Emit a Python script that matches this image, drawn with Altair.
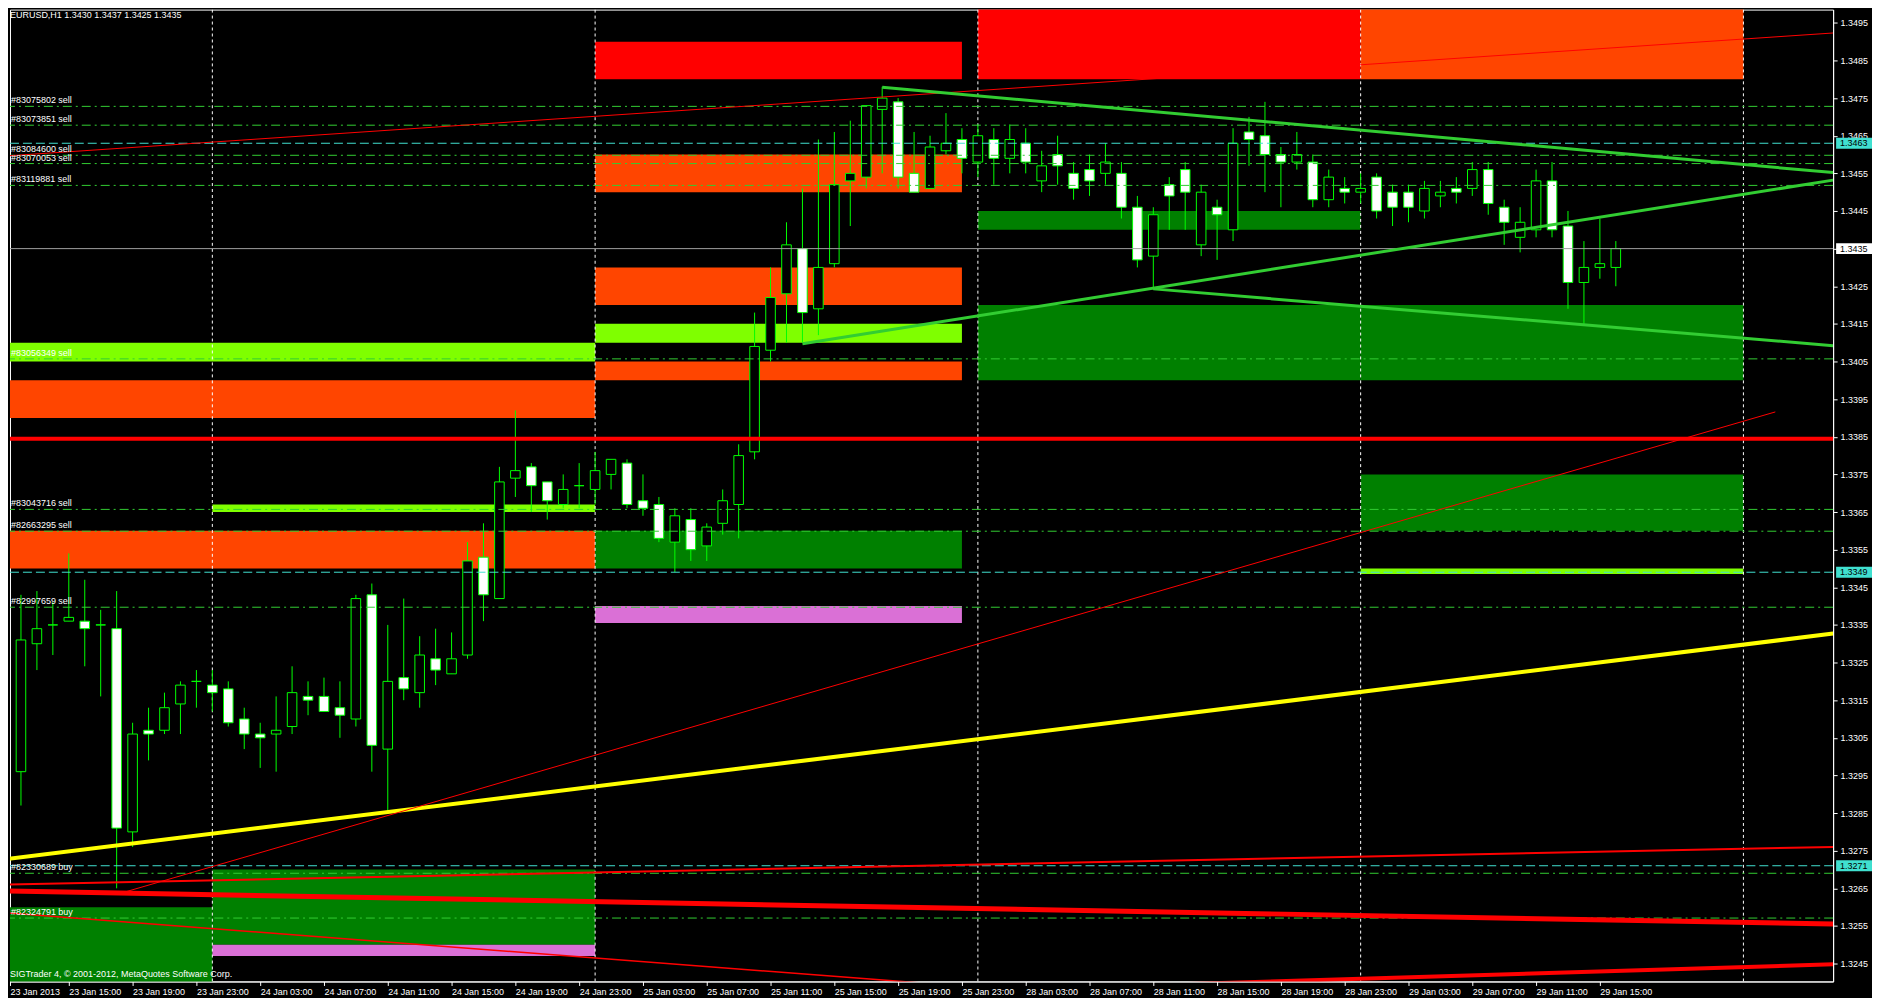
import altair as alt
import pandas as pd

FONT = "Liberation Sans"

# ---------------- candles (bar index k, 0 = 23 Jan 11:00) ----------------
BAR = list(range(102))
OPEN = [1.3297, 1.3296, 1.3330, 1.3335, 1.3336, 1.3336, 1.3335, 1.3334, 1.3280, 1.3307,
        1.3307, 1.3314, 1.3320, 1.3319, 1.3318, 1.3310, 1.3306, 1.3306, 1.3308, 1.3316,
        1.3316, 1.3313, 1.3310, 1.3343, 1.3302, 1.3321, 1.3317, 1.3326, 1.3322, 1.3327,
        1.3353, 1.3342, 1.3374, 1.3377, 1.3373, 1.3367, 1.3372, 1.3371, 1.3375, 1.3378,
        1.3368, 1.3367, 1.3357, 1.3363, 1.3356, 1.3362, 1.3367, 1.3381, 1.3408, 1.3423,
        1.3435, 1.3419, 1.3431, 1.3453, 1.3454, 1.3472, 1.3474, 1.3455, 1.3451, 1.3461,
        1.3464, 1.3458, 1.3464, 1.3459, 1.3463, 1.3453, 1.3460, 1.3455, 1.3456, 1.3455,
        1.3455, 1.3446, 1.3433, 1.3452, 1.3456, 1.3436, 1.3446, 1.3440, 1.3466, 1.3465,
        1.3460, 1.3458, 1.3458, 1.3448, 1.3451, 1.3450, 1.3454, 1.3450, 1.3450, 1.3445,
        1.3449, 1.3451, 1.3451, 1.3456, 1.3446, 1.3438, 1.3440, 1.3453, 1.3441, 1.3426,
        1.3430, 1.3430]
HIGH = [1.3305, 1.3343, 1.3344, 1.3341, 1.3354, 1.3347, 1.3339, 1.3344, 1.3309, 1.3313,
        1.3317, 1.3320, 1.3323, 1.3323, 1.3320, 1.3313, 1.3309, 1.3316, 1.3324, 1.3320,
        1.3321, 1.3320, 1.3343, 1.3346, 1.3335, 1.3342, 1.3332, 1.3334, 1.3333, 1.3357,
        1.3362, 1.3377, 1.3392, 1.3378, 1.3373, 1.3375, 1.3378, 1.3381, 1.3379, 1.3379,
        1.3375, 1.3369, 1.3366, 1.3366, 1.3362, 1.3371, 1.3383, 1.3418, 1.3430, 1.3442,
        1.3451, 1.3464, 1.3466, 1.3469, 1.3473, 1.3478, 1.3475, 1.3466, 1.3465, 1.3471,
        1.3467, 1.3468, 1.3467, 1.3468, 1.3467, 1.3461, 1.3465, 1.3458, 1.3460, 1.3463,
        1.3458, 1.3449, 1.3446, 1.3454, 1.3458, 1.3452, 1.3448, 1.3467, 1.3470, 1.3474,
        1.3462, 1.3466, 1.3460, 1.3456, 1.3454, 1.3455, 1.3455, 1.3452, 1.3452, 1.3453,
        1.3453, 1.3454, 1.3458, 1.3458, 1.3448, 1.3446, 1.3456, 1.3458, 1.3445, 1.3437,
        1.3443, 1.3437]
LOW = [1.3284, 1.3287, 1.3323, 1.3327, 1.3336, 1.3324, 1.3316, 1.3265, 1.3276, 1.3299,
       1.3306, 1.3306, 1.3313, 1.3312, 1.3308, 1.3302, 1.3297, 1.3296, 1.3306, 1.3311,
       1.3312, 1.3305, 1.3308, 1.3296, 1.3285, 1.3315, 1.3313, 1.3319, 1.3322, 1.3326,
       1.3336, 1.3342, 1.3369, 1.3365, 1.3363, 1.3366, 1.3366, 1.3367, 1.3371, 1.3366,
       1.3364, 1.3357, 1.3349, 1.3352, 1.3352, 1.3359, 1.3358, 1.3379, 1.3405, 1.3410,
       1.3410, 1.3412, 1.3430, 1.3441, 1.3451, 1.3455, 1.3451, 1.3450, 1.3451, 1.3460,
       1.3455, 1.3454, 1.3452, 1.3455, 1.3455, 1.3450, 1.3452, 1.3448, 1.3449, 1.3452,
       1.3443, 1.3430, 1.3424, 1.3440, 1.3440, 1.3433, 1.3432, 1.3437, 1.3457, 1.3450,
       1.3446, 1.3456, 1.3446, 1.3446, 1.3447, 1.3447, 1.3443, 1.3441, 1.3442, 1.3443,
       1.3446, 1.3447, 1.3449, 1.3444, 1.3436, 1.3434, 1.3438, 1.3438, 1.3419, 1.3415,
       1.3427, 1.3425]
CLOSE = [1.3297, 1.3331, 1.3334, 1.3335, 1.3337, 1.3334, 1.3335, 1.3281, 1.3306, 1.3306,
         1.3313, 1.3319, 1.3320, 1.3317, 1.3309, 1.3306, 1.3305, 1.3307, 1.3317, 1.3315,
         1.3312, 1.3311, 1.3342, 1.3303, 1.3320, 1.3318, 1.3327, 1.3323, 1.3326, 1.3352,
         1.3343, 1.3373, 1.3376, 1.3372, 1.3368, 1.3371, 1.3372, 1.3376, 1.3379, 1.3367,
         1.3366, 1.3358, 1.3364, 1.3355, 1.3361, 1.3368, 1.3380, 1.3409, 1.3422, 1.3436,
         1.3418, 1.3430, 1.3452, 1.3455, 1.3473, 1.3475, 1.3454, 1.3450, 1.3462, 1.3463,
         1.3459, 1.3465, 1.3459, 1.3464, 1.3458, 1.3457, 1.3457, 1.3451, 1.3453, 1.3458,
         1.3446, 1.3432, 1.3444, 1.3449, 1.3450, 1.3450, 1.3444, 1.3463, 1.3464, 1.3460,
         1.3458, 1.3460, 1.3448, 1.3454, 1.3450, 1.3451, 1.3445, 1.3446, 1.3446, 1.3451,
         1.3450, 1.3450, 1.3456, 1.3447, 1.3442, 1.3442, 1.3453, 1.3440, 1.3426, 1.3430,
         1.3431, 1.3435]

# ---------------- axes ----------------
TICK_BARS = [0.3125, 4, 8, 12, 16, 20, 24, 28, 32, 36, 40, 44, 48, 52, 56, 60, 64, 68, 72,
             76, 80, 84, 88, 92, 96, 100]
TICK_LABELS = ["23 Jan 2013", "23 Jan 15:00", "23 Jan 19:00", "23 Jan 23:00", "24 Jan 03:00",
               "24 Jan 07:00", "24 Jan 11:00", "24 Jan 15:00", "24 Jan 19:00", "24 Jan 23:00",
               "25 Jan 03:00", "25 Jan 07:00", "25 Jan 11:00", "25 Jan 15:00", "25 Jan 19:00",
               "25 Jan 23:00", "28 Jan 03:00", "28 Jan 07:00", "28 Jan 11:00", "28 Jan 15:00",
               "28 Jan 19:00", "28 Jan 23:00", "29 Jan 03:00", "29 Jan 07:00", "29 Jan 11:00",
               "29 Jan 15:00"]
PRICE_TICKS = [1.3245, 1.3255, 1.3265, 1.3275, 1.3285, 1.3295, 1.3305, 1.3315, 1.3325,
               1.3335, 1.3345, 1.3355, 1.3365, 1.3375, 1.3385, 1.3395, 1.3405, 1.3415,
               1.3425, 1.3435, 1.3445, 1.3455, 1.3465, 1.3475, 1.3485, 1.3495]

# ---------------- day separators ----------------
SEPARATORS = [13, 37, 61, 85, 109]

# ---------------- zones ----------------
ZONE_START = [-2, -2, -2, 13, -2, 13, 13, 37, 37, 37, 37, 37, 37, 37, 61, 61, 61, 85, 85, 85, 85]
ZONE_END = [37, 37, 37, 37, 13, 37, 37, 60, 60, 60, 60, 60, 60, 60, 85, 85, 85, 109, 109, 109, 109]
ZONE_LOW = [1.3405, 1.3390, 1.3350, 1.3365, 1.3230, 1.3250, 1.3247, 1.3480, 1.3450, 1.3420,
            1.3410, 1.3400, 1.3350, 1.33355, 1.3480, 1.3440, 1.3400, 1.3480, 1.3400, 1.3360,
            1.33485]
ZONE_HIGH = [1.3410, 1.3400, 1.3360, 1.3367, 1.3260, 1.3270, 1.3250, 1.3490, 1.3460, 1.3430,
             1.3415, 1.3405, 1.3360, 1.3340, 1.3510, 1.3445, 1.3420, 1.3510, 1.3420, 1.3375,
             1.3350]
ZONE_COLOR = ["#7FFF00", "#FF4500", "#FF4500", "#7FFF00", "#008000", "#008000", "#DA70D6",
              "#FF0000", "#FF4500", "#FF4500", "#7FFF00", "#FF4500", "#008000", "#DA70D6",
              "#FF0000", "#008000", "#008000", "#FF4500", "#008000", "#008000", "#7FFF00"]

# ---------------- order lines ----------------
ORDER_PRICE = [1.34728, 1.34678, 1.34598, 1.34576, 1.34518, 1.34057, 1.33657, 1.33599,
               1.33397, 1.32690, 1.32571]
ORDER_LABEL = ["#83075802 sell", "#83073851 sell", "#83084600 sell", "#83070053 sell",
               "#83119881 sell", "#83056349 sell", "#83043716 sell", "#82663295 sell",
               "#82997659 sell", "#82330689 buy", "#82324791 buy"]

CYAN_LEVELS = [1.3463, 1.3349, 1.3271]
RED_LEVEL = [1.33845]
BID_LEVEL = [1.3435]

# ---------------- trend lines ----------------
TREND_ID = ["red_top", "yellow", "red_rise", "red_a", "red_b", "red_c", "red_d", "g1", "g2", "g3"]
TREND_K0 = [0, 0, 7.5, 0, 0, 0, 0, 55, 50, 72]
TREND_P0 = [1.34596, 1.32727, 1.32640, 1.32660, 1.32643, 1.32585, 1.32300, 1.34779, 1.34097, 1.34243]
TREND_K1 = [114.625, 114.625, 111, 114.625, 114.625, 114.625, 114.625, 114.625, 114.625, 114.625]
TREND_P1 = [1.34923, 1.33327, 1.33916, 1.32760, 1.32555, 1.32213, 1.32448, 1.34552, 1.34532, 1.34092]
TREND_COLOR = ["#FF0000", "#FFFF00", "#FF0000", "#FF0000", "#FF0000", "#FF0000", "#FF0000",
               "#32CD32", "#32CD32", "#32CD32"]
TREND_W = [1, 4, 1, 2, 5, 1.5, 4, 3, 3, 3]

# ---------------- right-axis badges ----------------
BADGE_PRICE = [1.3463, 1.3435, 1.3349, 1.3271]
BADGE_LABEL = ["1.3463", "1.3435", "1.3349", "1.3271"]
BADGE_BG = ["#40E0D0", "#FFFFFF", "#40E0D0", "#40E0D0"]

TITLE = "EURUSD,H1  1.3430 1.3437 1.3425 1.3435"
FOOTER = "SIGTrader 4, © 2001-2012, MetaQuotes Software Corp."

# ---------------- build tables ----------------
candles = pd.DataFrame({"k": BAR, "o": OPEN, "h": HIGH, "l": LOW, "c": CLOSE})
zones = pd.DataFrame({"x1": ZONE_START, "x2": ZONE_END, "y1": ZONE_LOW, "y2": ZONE_HIGH,
                      "color": ZONE_COLOR})
seps = pd.DataFrame({"k": SEPARATORS})
orders = pd.DataFrame({"price": ORDER_PRICE, "label": ORDER_LABEL})
cyan = pd.DataFrame({"price": CYAN_LEVELS})
redl = pd.DataFrame({"price": RED_LEVEL})
bid = pd.DataFrame({"price": BID_LEVEL})
rows = []
for i, tid in enumerate(TREND_ID):
    rows.append({"id": tid, "k": TREND_K0[i], "p": TREND_P0[i], "color": TREND_COLOR[i], "w": TREND_W[i]})
    rows.append({"id": tid, "k": TREND_K1[i], "p": TREND_P1[i], "color": TREND_COLOR[i], "w": TREND_W[i]})
trends = pd.DataFrame(rows)
badges = pd.DataFrame({"price": BADGE_PRICE, "label": BADGE_LABEL, "bg": BADGE_BG})

# ---------------- scales / axes ----------------
xs = alt.Scale(domain=[0.3125, 114.625], nice=False, zero=False)
ys = alt.Scale(domain=[1.324025, 1.349852], nice=False, zero=False)
label_expr = "[" + ",".join("'" + t + "'" for t in TICK_LABELS) + "][round(datum.value/4)]"
XAX = alt.Axis(values=TICK_BARS, labelExpr=label_expr, labelAlign="left", orient="bottom",
               title=None, grid=False, tickSize=4, labelPadding=2, labelFont=FONT,
               labelFontSize=9, labelColor="white", tickColor="white", domainColor="white",
               labelOverlap=False, labelFlush=False)
YAX = alt.Axis(values=PRICE_TICKS, format=".4f", orient="right", title=None, grid=False,
               tickSize=4, labelPadding=3, labelFont=FONT, labelFontSize=9,
               labelColor="white", tickColor="white", domainColor="white",
               labelOverlap=False, labelFlush=False)


def X(f):
    return alt.X(f, type="quantitative", scale=xs, axis=XAX)


def Y(f):
    return alt.Y(f, type="quantitative", scale=ys, axis=YAX)


zone_layer = alt.Chart(zones).mark_rect(clip=True).encode(
    x=X("x1"), x2="x2", y=Y("y1"), y2="y2", fill=alt.Fill("color:N", scale=None))

sep_layer = alt.Chart(seps).mark_rule(color="white", strokeDash=[3, 3], strokeWidth=1, clip=True).encode(
    x=X("k"))

wick_layer = alt.Chart(candles).mark_rule(color="#00FF00", strokeWidth=1, clip=True).encode(
    x=X("k"), y=Y("l"), y2="h")

body_layer = alt.Chart(candles).transform_calculate(
    x1="datum.k - 0.3", x2="datum.k + 0.3",
    top="max(datum.o, datum.c)", bot="min(datum.o, datum.c)",
    fillc="datum.c > datum.o ? 'black' : 'white'"
).mark_rect(stroke="#00FF00", strokeWidth=1, clip=True).encode(
    x=X("x1:Q"), x2="x2:Q", y=Y("bot:Q"), y2="top:Q", fill=alt.Fill("fillc:N", scale=None))

order_layer = alt.Chart(orders).mark_rule(color="#32CD32", strokeDash=[9, 4, 2, 4], strokeWidth=1).encode(
    y=Y("price"))
order_text = alt.Chart(orders).mark_text(align="left", baseline="middle", dy=-6, color="white",
                                         font=FONT, fontSize=9).encode(
    x=alt.value(1), y=Y("price"), text="label:N")

cyan_layer = alt.Chart(cyan).mark_rule(color="#40E0D0", strokeDash=[9, 4], strokeWidth=1).encode(y=Y("price"))
red_layer = alt.Chart(redl).mark_rule(color="#FF0000", strokeWidth=4).encode(y=Y("price"))
bid_layer = alt.Chart(bid).mark_rule(color="#A0A0A0", strokeWidth=1).encode(y=Y("price"))

trend_layer = alt.Chart(trends).mark_line(clip=True).encode(
    x=X("k"), y=Y("p"), detail="id:N",
    color=alt.Color("color:N", scale=None), strokeWidth=alt.StrokeWidth("w:Q", scale=None))

badge_rect = alt.Chart(badges).transform_calculate(
    b1="datum.price - 0.000145", b2="datum.price + 0.000145"
).mark_rect(clip=False).encode(
    x=alt.value(1832), x2=alt.value(1868), y=Y("b1:Q"), y2="b2:Q", fill=alt.Fill("bg:N", scale=None))
badge_text = alt.Chart(badges).mark_text(align="left", baseline="middle", color="black",
                                         font=FONT, fontSize=9).encode(
    x=alt.value(1836), y=Y("price"), text="label:N")

title_text = alt.Chart(pd.DataFrame({"t": [TITLE]})).mark_text(
    align="left", baseline="middle", color="white", font=FONT, fontSize=9).encode(
    x=alt.value(0), y=alt.value(5), text="t:N")
footer_text = alt.Chart(pd.DataFrame({"t": [FOOTER]})).mark_text(
    align="left", baseline="middle", color="white", font=FONT, fontSize=9).encode(
    x=alt.value(0), y=alt.value(968), text="t:N")

chart = alt.layer(
    zone_layer, sep_layer, wick_layer, body_layer, red_layer, bid_layer, cyan_layer,
    order_layer, trend_layer, order_text, badge_rect, badge_text, title_text, footer_text
).properties(
    width=1829, height=975, padding=0
).configure(
    background="black"
).configure_view(
    stroke="white", strokeWidth=1, fill="black"
)

chart.save("out.html", embed_options={"renderer": "svg", "actions": False})
